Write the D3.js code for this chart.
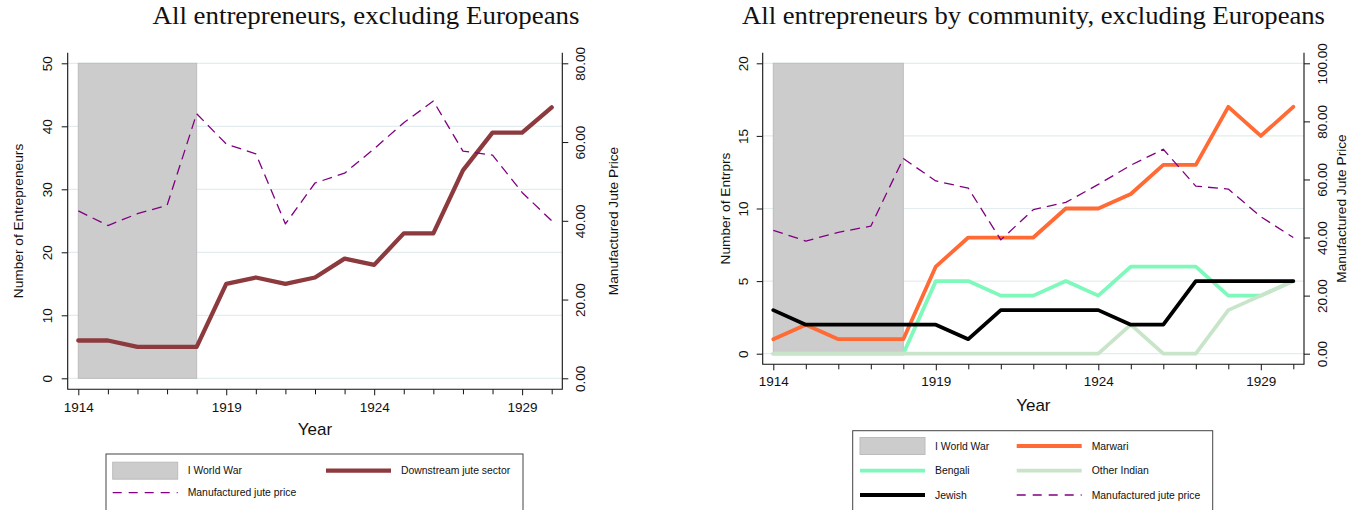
<!DOCTYPE html>
<html>
<head>
<meta charset="utf-8">
<script src="https://cdn.jsdelivr.net/npm/d3@7/dist/d3.min.js"></script>
<style>
body { margin:0; background:#fff; }
svg text { font-family: "Liberation Sans", Arial, sans-serif; fill:#111; }
</style>
</head>
<body>
<svg id="chart" width="1359" height="510"></svg>
<script>
// values, one per year
var years = [1914,1915,1916,1917,1918,1919,1920,1921,1922,1923,1924,1925,1926,1927,1928,1929,1930];
var labelYears = [1914,1919,1924,1929];
var warYears = [1914,1918];

var downstream = [6,6,5,5,5,15,16,15,16,19,18,23,23,33,39,39,43];
var jutePrice = [42.5,38.8,41.8,43.9,67.2,59.5,57.0,39.2,49.6,52.1,58.3,64.9,70.4,57.7,56.7,47.2,40.0];

var marwari = [1,2,1,1,1,6,8,8,8,10,10,11,13,13,17,15,17];
var bengali = [0,0,0,0,0,5,5,4,4,5,4,6,6,6,4,4,5];
var otherIndian = [0,0,0,0,0,0,0,0,0,0,0,2,0,0,3,4,5];
var jewish = [3,2,2,2,2,2,1,3,3,3,3,2,2,5,5,5,5];

var leftTicks = [0,10,20,30,40,50];
var leftPriceTicks = [0,20,40,60,80];
var rightTicks = [0,5,10,15,20];
var rightPriceTicks = [0,20,40,60,80,100];

var svg = d3.select("#chart");
var PURPLE = "#800080", WARGRAY = "#cccccc";

var panel = function(cfg){
	var g = svg.append("g");
	var f = cfg.frame;
	var x = d3.scaleLinear().domain([1914,1930]).range(cfg.xr);
	var y = d3.scaleLinear().domain([0,cfg.ymax]).range(cfg.yr);
	var y2 = d3.scaleLinear().domain([0,cfg.pmax]).range(cfg.yr);

	// title
	g.append("text").attr("x",cfg.titleX).attr("y",24)
		.attr("text-anchor","middle")
		.attr("textLength",cfg.titleLen).attr("lengthAdjust","spacingAndGlyphs")
		.style("font-family","'Liberation Serif', 'Times New Roman', serif")
		.style("font-size","24.5px")
		.text(cfg.title);

	// gridlines
	g.selectAll(".grid").data(cfg.yticks).enter().append("line")
		.attr("x1",f.l).attr("x2",f.r)
		.attr("y1",function(d){return y(d)}).attr("y2",function(d){return y(d)})
		.attr("stroke","#e3edef").attr("stroke-width",1.2);

	// war shading
	g.append("rect")
		.attr("x",x(warYears[0])).attr("width",x(warYears[1])-x(warYears[0]))
		.attr("y",y(cfg.ymax)).attr("height",y(0)-y(cfg.ymax))
		.attr("fill",WARGRAY).attr("stroke","#bcbcbc").attr("stroke-width",1);

	cfg.series.forEach(function(s){
		var line = d3.line().x(function(d,i){return x(years[i])})
			.y(function(d){return s.price ? y2(d) : y(d)});
		g.append("path").datum(s.values).attr("d",line)
			.attr("fill","none").attr("stroke",s.color).attr("stroke-width",s.w)
			.attr("stroke-linejoin","round").attr("stroke-linecap",s.price?"butt":"round")
			.attr("stroke-dasharray",s.price?"10,6":null);
	});

	// axes
	var ax = g.append("g").attr("transform","translate(0,"+f.b+")")
		.call(d3.axisBottom(x).tickValues(years).tickSize(5).tickPadding(cfg.xpad)
			.tickFormat(function(d){return labelYears.indexOf(d)>=0 ? d : ""}));
	ax.selectAll(".tick line").attr("y2",function(d){return labelYears.indexOf(d)>=0?6:5});
	ax.selectAll("text").style("font-size","13.5px");

	var ay = g.append("g").attr("transform","translate("+f.l+",0)")
		.call(d3.axisLeft(y).tickValues(cfg.yticks).tickSize(6));
	ay.selectAll("text").style("font-size","13.5px")
		.attr("x",0).attr("y",0).attr("dy","0.35em").attr("text-anchor","middle")
		.attr("transform","translate("+(-cfg.loff)+",0) rotate(-90)");

	var ap = g.append("g").attr("transform","translate("+f.r+",0)")
		.call(d3.axisRight(y2).tickValues(cfg.pticks).tickSize(6)
			.tickFormat(d3.format(".2f")));
	ap.selectAll("text").style("font-size","13.5px")
		.attr("x",0).attr("y",0).attr("dy","0.35em").attr("text-anchor","middle")
		.attr("transform","translate("+cfg.roff+",0) rotate(-90)");

	g.selectAll(".domain").remove();
	g.selectAll(".tick line").attr("stroke","#111");
	// frame lines (left, bottom, right)
	g.append("path").attr("d","M"+f.l+","+f.t+"V"+f.b+"H"+f.r+"V"+f.t)
		.attr("fill","none").attr("stroke","#111").attr("stroke-width",1.1);

	// axis titles
	g.append("text").attr("x",(f.l+f.r)/2).attr("y",cfg.yearY)
		.attr("text-anchor","middle").style("font-size","17px").text("Year");
	g.append("text").attr("transform","translate("+cfg.ltx+","+(f.t+f.b)/2+") rotate(-90)")
		.attr("dy","0.35em").attr("text-anchor","middle").style("font-size","13.7px").text(cfg.ytitle);
	g.append("text").attr("transform","translate("+cfg.rtx+","+(f.t+f.b)/2+") rotate(-90)")
		.attr("dy","0.35em").attr("text-anchor","middle").style("font-size","13.7px").text("Manufactured Jute Price");

	// legend
	var L = cfg.legend;
	g.append("rect").attr("x",L.x).attr("y",L.y).attr("width",L.w).attr("height",120)
		.attr("fill","#fff").attr("stroke","#444").attr("stroke-width",1);
	L.items.forEach(function(it,i){
		var col = i%2, row = Math.floor(i/2);
		var sx = L.cols[col], cy = L.rows[row];
		if(it.area){
			g.append("rect").attr("x",sx).attr("y",cy-8.5).attr("width",65).attr("height",17)
				.attr("fill",WARGRAY).attr("stroke","#bcbcbc");
		} else {
			g.append("line").attr("x1",sx).attr("x2",sx+65).attr("y1",cy).attr("y2",cy)
				.attr("stroke",it.color).attr("stroke-width",it.w)
				.attr("stroke-dasharray",it.dash?"9,7":null);
		}
		g.append("text").attr("x",sx+75).attr("y",cy).attr("dy","0.35em")
			.style("font-size","10.4px").text(it.label);
	});
};

panel({
	title:"All entrepreneurs, excluding Europeans", titleLen:427, titleX:366,
	frame:{l:67.7,r:562.3,t:52.7,b:389.3},
	xr:[78.3,551.7], yr:[378.3,63.3], ymax:50, pmax:80,
	yticks:leftTicks, pticks:leftPriceTicks,
	xpad:8, loff:20, roff:18, yearY:435, ltx:18.3, rtx:613.3,
	ytitle:"Number of Entrepreneurs",
	series:[
		{values:downstream,color:"#8d3a3e",w:4.3},
		{values:jutePrice,color:PURPLE,w:1.3,price:true}
	],
	legend:{x:106,y:454,w:417,cols:[112.7,326],rows:[470.7,492.7],items:[
		{label:"I World War",area:true},
		{label:"Downstream jute sector",color:"#8d3a3e",w:4.3},
		{label:"Manufactured jute price",color:PURPLE,w:1.3,dash:true}
	]}
});

panel({
	title:"All entrepreneurs by community, excluding Europeans", titleLen:583, titleX:1033.5,
	frame:{l:762.7,r:1304,t:52.7,b:364.3},
	xr:[773.3,1293.3], yr:[353.7,63.3], ymax:20, pmax:100,
	yticks:rightTicks, pticks:rightPriceTicks,
	xpad:7.5, loff:19, roff:18, yearY:410.7, ltx:725, rtx:1341.7,
	ytitle:"Number of Entrprs",
	series:[
		{values:bengali,color:"#7ff8bc",w:3.8},
		{values:otherIndian,color:"#c9e5c9",w:3.8},
		{values:marwari,color:"#ff6a35",w:3.8},
		{values:jewish,color:"#000000",w:3.8},
		{values:jutePrice,color:PURPLE,w:1.3,price:true}
	],
	legend:{x:852.7,y:430.7,w:360,cols:[860,1016.7],rows:[446,470.7,495],items:[
		{label:"I World War",area:true},
		{label:"Marwari",color:"#ff6a35",w:3.8},
		{label:"Bengali",color:"#7ff8bc",w:3.8},
		{label:"Other Indian",color:"#c9e5c9",w:3.8},
		{label:"Jewish",color:"#000000",w:3.8},
		{label:"Manufactured jute price",color:PURPLE,w:1.3,dash:true}
	]}
});
</script>
</body>
</html>
